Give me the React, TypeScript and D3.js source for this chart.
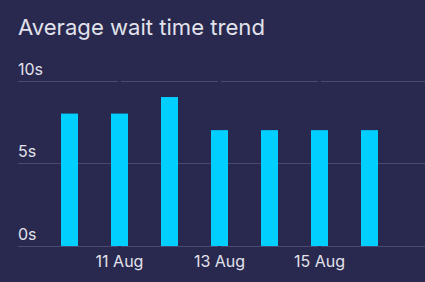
import React from "react";
import * as d3 from "d3";

const dates = ["10 Aug", "11 Aug", "12 Aug", "13 Aug", "14 Aug", "15 Aug", "16 Aug"];
const waitSeconds = [8, 8, 9, 7, 7, 7, 7];
const yTicks = [0, 5, 10];
const xTickLabels = ["11 Aug", "13 Aug", "15 Aug"];

const W = 425;
const H = 282;
const BG = "#29294f";
const BAR = "#00cfff";
const GRID = "#484a72";
const TEXT = "#e2e2ec";
const FONT = "Inter, 'Noto Sans', sans-serif";

export default function App() {
  const x = d3.scaleBand<string>().domain(dates).range([44.5, 394.5]).paddingInner(0.66).paddingOuter(0.33);
  const y = d3.scaleLinear().domain([0, 10]).range([246, 80.5]);
  const left = 18;
  const right = W;
  const gaps = xTickLabels.map((d) => (x(d) as number) + x.bandwidth() / 2);

  const segs: [number, number][] = [];
  let start = left;
  gaps.forEach((g) => {
    segs.push([start, g - 1.5]);
    start = g + 1.5;
  });
  segs.push([start, right]);

  return (
    <div style={{ position: "absolute", left: 0, top: 0 }}>
      <svg width={W} height={H} style={{ display: "block", background: BG }}>
        <rect width={W} height={H} fill={BG} />
        <text x={18} y={35} fill={TEXT} fontFamily={FONT} fontSize={22.1} fontWeight={400}>
          Average wait time trend
        </text>
        {yTicks.map((t) => (
          <g key={t}>
            {segs.map(([a, b], i) => (
              <line key={i} x1={a} x2={b} y1={Math.round(y(t)) + 0.5} y2={Math.round(y(t)) + 0.5} stroke={GRID} strokeWidth={1} />
            ))}
            <text x={left} y={y(t) - 6} fill={TEXT} fontFamily={FONT} fontSize={16}>
              {t}s
            </text>
          </g>
        ))}
        {dates.map((d, i) => (
          <rect key={d} x={x(d)} y={y(waitSeconds[i])} width={x.bandwidth()} height={y(0) - y(waitSeconds[i])} fill={BAR} />
        ))}
        {xTickLabels.map((d) => (
          <text key={d} x={(x(d) as number) + x.bandwidth() / 2} y={267} textAnchor="middle" fill={TEXT} fontFamily={FONT} fontSize={16}>
            {d}
          </text>
        ))}
      </svg>
    </div>
  );
}
